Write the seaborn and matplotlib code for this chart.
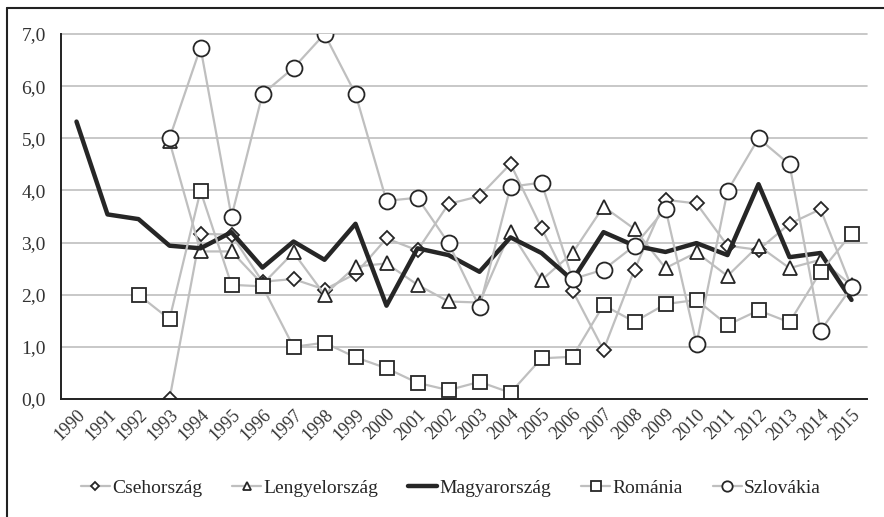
import numpy as np
import pandas as pd
import matplotlib
matplotlib.use("Agg")
import matplotlib.pyplot as plt
from matplotlib.lines import Line2D
import seaborn as sns

# --- Data ---
years = [str(y) for y in range(1990, 2016)]
nan = np.nan

csehorszag = [nan, nan, nan, 0.0, 3.17, 3.15, 2.25, 2.30, 2.10, 2.40, 3.08, 2.85, 3.74, 3.89,
              4.51, 3.28, 2.08, 0.94, 2.48, 3.82, 3.75, 2.94, 2.86, 3.36, 3.64, 2.15]
lengyelorszag = [nan, nan, nan, 4.94, 2.83, 2.83, 2.20, 2.81, 2.00, 2.54, 2.60, 2.19, 1.87, 1.85,
                 3.21, 2.28, 2.80, 3.69, 3.26, 2.51, 2.81, 2.36, 2.94, 2.51, 2.67, 2.18]
magyarorszag = [5.32, 3.54, 3.45, 2.94, 2.89, 3.20, 2.52, 3.02, 2.67, 3.36, 1.79, 2.89, 2.76, 2.44,
                3.10, 2.80, 2.28, 3.20, 2.94, 2.82, 2.99, 2.76, 4.12, 2.72, 2.80, 1.90]
romania = [nan, nan, 2.00, 1.53, 3.99, 2.19, 2.16, 1.00, 1.08, 0.80, 0.59, 0.31, 0.17, 0.33,
           0.12, 0.78, 0.81, 1.80, 1.48, 1.82, 1.90, 1.42, 1.70, 1.47, 2.44, 3.17]
szlovakia = [nan, nan, nan, 5.00, 6.74, 3.50, 5.85, 6.35, 7.00, 5.85, 3.80, 3.86, 2.99, 1.76,
             4.07, 4.15, 2.30, 2.48, 2.94, 3.65, 1.06, 3.99, 5.00, 4.50, 1.31, 2.14]

# --- Styles ---
GRAY = "#BFBFBF"
DARK = "#262626"
series = [
    ("Csehország", csehorszag, dict(color=GRAY, lw=1.6, marker="D", ms=7)),
    ("Lengyelország", lengyelorszag, dict(color=GRAY, lw=1.6, marker="^", ms=9.5)),
    ("Magyarország", magyarorszag, dict(color=DARK, lw=3.2, marker=None, ms=0)),
    ("Románia", romania, dict(color=GRAY, lw=1.6, marker="s", ms=10.5)),
    ("Szlovákia", szlovakia, dict(color=GRAY, lw=1.6, marker="o", ms=11.5)),
]

sns.set_style("white")
plt.rcParams["font.family"] = ["Liberation Serif", "DejaVu Serif"]

fig = plt.figure(figsize=(8.84, 5.17), dpi=100)
ax = fig.add_axes([61 / 884, 1 - 399 / 517, (867 - 61) / 884, (399 - 34) / 517])

x_idx = np.arange(len(years))
for name, vals, st in series:
    df = pd.DataFrame({"x": x_idx, "y": vals}).dropna()
    kw = dict(color=st["color"], linewidth=st["lw"], label=name)
    if st["marker"]:
        kw.update(marker=st["marker"], markersize=st["ms"], markerfacecolor="white",
                  markeredgecolor=DARK, markeredgewidth=1.3)
    sns.lineplot(data=df, x="x", y="y", ax=ax, **kw)

# --- Axes formatting ---
ax.set_xlim(-0.5, len(years) - 0.5)
ax.set_ylim(0, 7.0)
ax.set_yticks(np.arange(0, 8, 1))
ax.set_yticklabels([f"{v:.1f}".replace(".", ",") for v in range(0, 8)], fontsize=14, color="#333333")
ax.set_xticks(x_idx)
ax.set_xticklabels(years, fontsize=13, rotation=45, ha="right", rotation_mode="anchor", color="#333333")
ax.tick_params(axis="both", length=0)
ax.tick_params(axis="y", pad=11)
ax.tick_params(axis="x", pad=5)
ax.set_xlabel("")
ax.set_ylabel("")
ax.yaxis.grid(True, color=GRAY, linewidth=1.2)
ax.xaxis.grid(False)
ax.set_axisbelow(True)
for s in ["top", "right"]:
    ax.spines[s].set_visible(False)
for s in ["left", "bottom"]:
    ax.spines[s].set_color("#222222")
    ax.spines[s].set_linewidth(1.4)
for gl in ax.get_ygridlines():
    gl.set_clip_on(False)

# --- Legend ---
handles, labels = ax.get_legend_handles_labels()
if ax.get_legend():
    ax.get_legend().remove()
fig.legend(handles, labels, loc="center", bbox_to_anchor=(0.51, 0.056), ncol=5,
           frameon=False, fontsize=14, markerscale=0.65, handlelength=1.5,
           handletextpad=0.1, columnspacing=1.55)

# --- Outer frame (left and top edges) ---
fig.add_artist(Line2D([7 / 884, 7 / 884], [0, 1 - 8 / 517], color="#222222", lw=1.5))
fig.add_artist(Line2D([7 / 884, 1], [1 - 8 / 517, 1 - 8 / 517], color="#222222", lw=1.5))

fig.savefig("out.png", dpi=100)
